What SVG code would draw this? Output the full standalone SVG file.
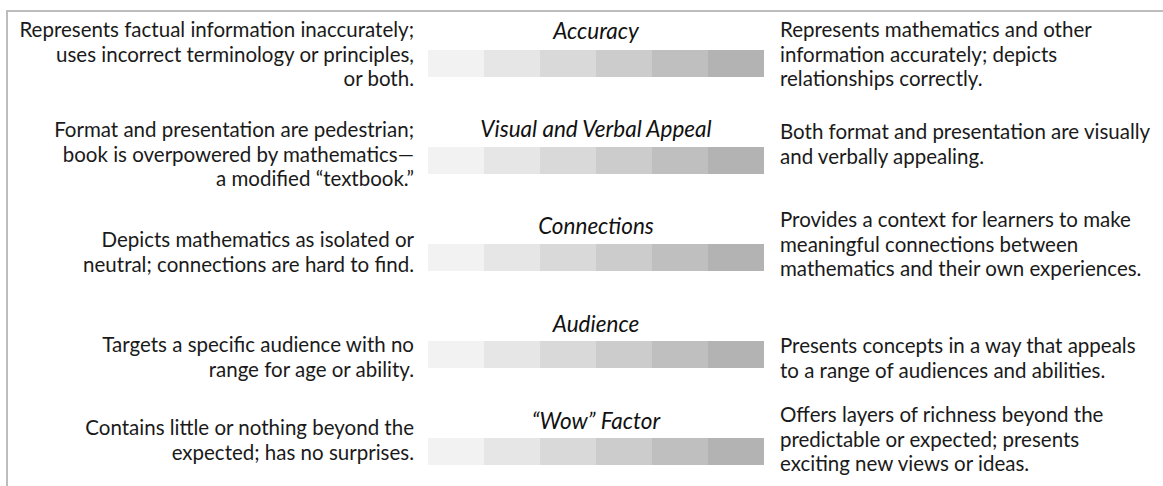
<svg xmlns="http://www.w3.org/2000/svg" width="1163" height="486" viewBox="0 0 1163 486">
<defs>
<style>
.t{font-family:Lato,"Open Sans",sans-serif;font-size:20.5px;fill:#1a1a1a}
.l{text-anchor:end}
.h{font-family:Lato,"Open Sans",sans-serif;font-size:22.5px;font-style:italic;font-weight:normal;fill:#111;text-anchor:middle}
.frame{stroke:#bdbdbd;stroke-width:2;fill:none}
.s1{fill:#f2f2f2}.s2{fill:#e6e6e6}.s3{fill:#d9d9d9}.s4{fill:#cccccc}.s5{fill:#bfbfbf}.s6{fill:#b3b3b3}
</style>
<g id="bar">
<rect class="s1" x="428" y="0" width="56" height="27"/>
<rect class="s2" x="484" y="0" width="56" height="27"/>
<rect class="s3" x="540" y="0" width="56" height="27"/>
<rect class="s4" x="596" y="0" width="56" height="27"/>
<rect class="s5" x="652" y="0" width="56" height="27"/>
<rect class="s6" x="708" y="0" width="56" height="27"/>
</g>
</defs>
<rect width="1163" height="486" fill="#fff"/>
<g id="connectors">
<path class="frame" d="M7,486 V11 H1163"/>
</g>
<g id="accuracy">
<text class="t l" x="414" y="37">Represents factual information inaccurately;</text>
<text class="t l" x="414" y="61.5">uses incorrect terminology or principles,</text>
<text class="t l" x="414" y="86">or both.</text>
<text class="h" x="596" y="39">Accuracy</text>
<use href="#bar" y="50"/>
<text class="t" x="780" y="37">Represents mathematics and other</text>
<text class="t" x="780" y="61.5">information accurately; depicts</text>
<text class="t" x="780" y="86">relationships correctly.</text>
</g>
<g id="appeal">
<text class="t l" x="414" y="137">Format and presentation are pedestrian;</text>
<text class="t l" x="414" y="161.5">book is overpowered by mathematics—</text>
<text class="t l" x="414" y="186">a modified “textbook.”</text>
<text class="h" x="596" y="137">Visual and Verbal Appeal</text>
<use href="#bar" y="147"/>
<text class="t" x="780" y="139">Both format and presentation are visually</text>
<text class="t" x="780" y="163.5">and verbally appealing.</text>
</g>
<g id="connections">
<text class="t l" x="414" y="247">Depicts mathematics as isolated or</text>
<text class="t l" x="414" y="271.5">neutral; connections are hard to find.</text>
<text class="h" x="596" y="234">Connections</text>
<use href="#bar" y="244"/>
<text class="t" x="780" y="227">Provides a context for learners to make</text>
<text class="t" x="780" y="251.5">meaningful connections between</text>
<text class="t" x="780" y="276">mathematics and their own experiences.</text>
</g>
<g id="audience">
<text class="t l" x="414" y="352">Targets a specific audience with no</text>
<text class="t l" x="414" y="376.5">range for age or ability.</text>
<text class="h" x="596" y="332">Audience</text>
<use href="#bar" y="341"/>
<text class="t" x="780" y="353">Presents concepts in a way that appeals</text>
<text class="t" x="780" y="377.5">to a range of audiences and abilities.</text>
</g>
<g id="wow">
<text class="t l" x="414" y="435">Contains little or nothing beyond the</text>
<text class="t l" x="414" y="459.5">expected; has no surprises.</text>
<text class="h" x="596" y="429">“Wow” Factor</text>
<use href="#bar" y="438"/>
<text class="t" x="780" y="422">Offers layers of richness beyond the</text>
<text class="t" x="780" y="446.5">predictable or expected; presents</text>
<text class="t" x="780" y="471">exciting new views or ideas.</text>
</g>
</svg>
